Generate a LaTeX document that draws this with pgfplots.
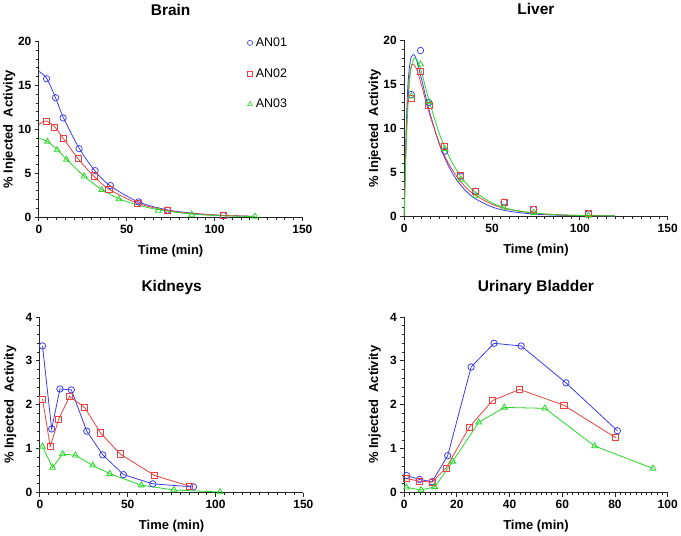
\documentclass[border=0pt]{standalone}
\usepackage{fontspec}
\setmainfont{Liberation Sans}
\usepackage{pgfplots}
\pgfplotsset{compat=1.18}

\definecolor{cA}{RGB}{60,60,235}
\definecolor{cB}{RGB}{235,65,65}
\definecolor{cC}{RGB}{40,215,40}

\pgfplotsset{
  panel/.style={
    scale only axis, width=264pt, height=176pt,
    axis lines=left, axis line style={-, line width=1pt, black!85},
    xmin=0, ymin=0,
    tick align=outside, major tick length=4pt, minor tick length=2.5pt,
    every tick/.style={line width=0.8pt, black!85},
    ticklabel style={font=\bfseries\fontsize{12}{14}\selectfont},
    /pgf/number format/assume math mode=true,
    title style={font=\bfseries\fontsize{15.5}{17}\selectfont, at={(0.5,1)}, anchor=base, yshift=20pt},
    xlabel={Time (min)},
    ylabel={\% Injected\ \ Activity},
    every axis x label/.style={at={(axis description cs:0.5,-0.21)}, anchor=base,
      font=\bfseries\fontsize{13}{15}\selectfont},
    every axis y label/.style={at={(axis description cs:-0.112,0.5)}, anchor=center, rotate=90,
      font=\bfseries\fontsize{13}{15}\selectfont},
    clip=false,
  },
  fitA/.style={cA, line width=0.8pt, smooth, no marks, forget plot},
  fitB/.style={cB, line width=0.8pt, smooth, no marks, forget plot},
  fitC/.style={cC, line width=0.8pt, smooth, no marks, forget plot},
  ptA/.style={cA, only marks, mark=o, mark size=3.2pt, line width=0.75pt, forget plot},
  ptB/.style={cB, only marks, mark=square, mark size=3.1pt, line width=0.75pt, forget plot},
  ptC/.style={cC, only marks, mark=triangle, mark size=3.4pt, line width=0.75pt, forget plot},
  lnA/.style={cA, line width=0.8pt, mark=o, mark size=3.2pt},
  lnB/.style={cB, line width=0.8pt, mark=square, mark size=3.1pt},
  lnC/.style={cC, line width=0.8pt, mark=triangle, mark size=3.4pt},
}

\begin{document}
\begin{tikzpicture}
\path (0,0) rectangle (681pt,-529pt);

% ---- Brain
\begin{axis}[panel, at={(38pt,-211pt)}, anchor=south west, title={Brain},
  xmax=150, ymax=20, xtick={0,50,100,150}, ytick={0,5,10,15,20},
  minor x tick num=9, minor y tick num=4,
  legend style={draw=none, fill=none, at={(axis cs:116.5,20.9)}, anchor=north west,
    font=\fontsize{12.5}{14}\selectfont, row sep=16.5pt, cells={anchor=west}},
  legend image code/.code={\draw[#1] plot coordinates {(0pt,0pt)}; \path (-3pt,0pt) (3.5pt,0pt);}]
\addplot[fitA] coordinates {(0,16.6) (4.4,15.8) (9.5,13.6) (13.8,11.4) (22.9,7.85) (32,5.25) (40.7,3.55) (56.8,1.72) (73.3,0.82) (90,0.4) (105,0.2) (122,0.1)};
\addplot[fitB] coordinates {(0,10.55) (2.5,10.9) (4.4,10.95) (8.9,10.3) (13.8,9.0) (22.3,6.65) (31.4,4.65) (39.8,3.2) (55.9,1.6) (73.3,0.75) (90,0.38) (105,0.2) (122,0.1)};
\addplot[fitC] coordinates {(0,9.0) (4.9,8.6) (10.4,7.7) (15.7,6.6) (25.8,4.65) (35.8,3.15) (45.5,2.1) (56,1.4) (68,0.85) (87,0.35) (105,0.15) (123,0.07)};
\addplot[ptA] coordinates {(4.4,15.76) (9.5,13.6) (13.8,11.3) (22.9,7.8) (32,5.3) (40.7,3.6) (56.8,1.74) (73.3,0.8) (105,0.19)};
\addplot[ptB] coordinates {(4.4,10.95) (8.9,10.2) (13.8,8.94) (22.3,6.67) (31.4,4.7) (39.8,3.18) (55.9,1.59) (73.3,0.8) (105,0.19)};
\addplot[ptC] coordinates {(4.9,8.6) (10.4,7.65) (15.7,6.55) (25.8,4.66) (35.8,3.1) (45.5,2.05) (68,0.76) (87,0.3) (123,0.08)};
\addlegendimage{cA, only marks, mark=o, mark size=2.6pt, line width=0.6pt}
\addlegendentry{AN01}
\addlegendimage{cB, only marks, mark=square, mark size=2.6pt, line width=0.6pt}
\addlegendentry{AN02}
\addlegendimage{cC, only marks, mark=triangle, mark size=2.8pt, line width=0.6pt}
\addlegendentry{AN03}
\end{axis}

% ---- Liver
\begin{axis}[panel, at={(404pt,-210pt)}, anchor=south west, title={Liver},
  xmax=150, ymax=20, xtick={0,50,100,150}, ytick={0,5,10,15,20},
  minor x tick num=9, minor y tick num=4]
\addplot[fitA] coordinates {(0,0) (1,9) (2,14.5) (3,17) (4,18.1) (5.5,18.4) (7,17.8) (10,15.5) (14,12.2) (20,8.2) (25,5.8) (30,4.1) (35,2.9) (40,2.05) (50,1.05) (60,0.55) (75,0.22) (90,0.1) (105,0.05) (120,0.03)};
\addplot[fitB] coordinates {(0,0) (1,8) (2,13) (3,15.8) (4,17) (5,17.3) (7,16.8) (10,14.8) (14,11.9) (20,8.3) (25,6.1) (30,4.5) (35,3.3) (40,2.45) (50,1.35) (60,0.75) (75,0.32) (90,0.14) (105,0.07) (120,0.04)};
\addplot[fitC] coordinates {(0,0) (1,7) (2,12) (3,15.2) (4,17) (6,18) (8,17.5) (10,16.3) (14,13.3) (20,9.4) (25,7.0) (30,5.2) (35,3.8) (40,2.8) (50,1.5) (60,0.8) (75,0.33) (90,0.14) (105,0.06) (120,0.03)};
\addplot[ptA] coordinates {(4,13.85) (9.3,18.86) (14,12.94) (23.1,7.4) (32,4.55) (40.7,2.85) (56.8,1.6) (73.7,0.76) (105,0.27)};
\addplot[ptB] coordinates {(4,13.4) (9.3,16.5) (14,12.6) (23.1,7.97) (32,4.63) (40.7,2.85) (56.8,1.6) (73.7,0.76) (105,0.3)};
\addplot[ptC] coordinates {(4,13.65) (9.3,17.3) (14,13) (23.1,7.67) (32,4.17) (40.7,2.35) (56.8,0.99) (73.7,0.38) (105,0.08)};
\end{axis}

% ---- Kidneys
\begin{axis}[panel, at={(39pt,-487pt)}, anchor=south west, title={Kidneys},
  xmax=150, ymax=4, xtick={0,50,100,150}, ytick={0,1,2,3,4},
  minor x tick num=9, minor y tick num=4]
\addplot[lnA] coordinates {(1.5,3.34) (6.7,1.45) (11.4,2.36) (17.9,2.34) (26.7,1.40) (35.8,0.86) (47.6,0.41) (64.3,0.2) (87.4,0.13)};
\addplot[lnB] coordinates {(1.5,2.13) (5.9,1.05) (10.7,1.67) (16.9,2.19) (25.5,1.94) (34.5,1.36) (45.7,0.88) (65.3,0.39) (84.9,0.15)};
\addplot[lnC] coordinates {(1.5,1.05) (7.2,0.57) (12.9,0.88) (20.2,0.85) (30.1,0.62) (39.8,0.43) (57.7,0.17) (76.3,0.06) (102.6,0.015)};
\end{axis}

% ---- Urinary Bladder
\begin{axis}[panel, at={(404pt,-487pt)}, anchor=south west, title={Urinary Bladder},
  xmax=100, ymax=4, xtick={0,20,40,60,80,100}, ytick={0,1,2,3,4},
  minor x tick num=9, minor y tick num=4]
\addplot[lnA] coordinates {(0.9,0.39) (5.8,0.30) (10.6,0.25) (16.5,0.84) (25.4,2.86) (34.1,3.40) (44.4,3.34) (61.4,2.50) (80.9,1.41)};
\addplot[lnB] coordinates {(0.9,0.32) (5.8,0.26) (10.6,0.24) (15.9,0.56) (24.7,1.49) (33.6,2.10) (43.8,2.35) (60.6,1.99) (80.3,1.25)};
\addplot[lnC] coordinates {(0.9,0.12) (6.4,0.06) (11.6,0.13) (18.4,0.71) (28.3,1.60) (38.0,1.94) (53.4,1.92) (72.3,1.06) (94.4,0.55)};
\end{axis}
\end{tikzpicture}
\end{document}
